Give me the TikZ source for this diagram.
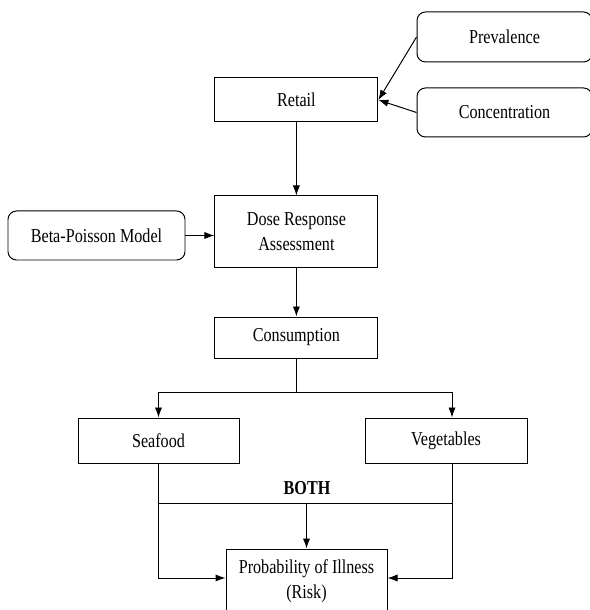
\documentclass[tikz,border=0pt]{standalone}
\usepackage{fontspec}
\setmainfont{Liberation Serif}[FakeStretch=0.82]
\usetikzlibrary{arrows.meta}

\newcommand{\flowfont}{\fontsize{14}{18}\selectfont}

\tikzset{
  stage/.style={draw, line width=0.7pt, align=center, inner sep=0pt, font=\flowfont},
  source/.style={stage, rounded corners=6pt},
  flow/.style={line width=0.7pt, -{Latex[length=2.5mm,width=1.8mm]}},
  link/.style={line width=0.7pt}
}

\begin{document}
\begin{tikzpicture}

\useasboundingbox (0,0) rectangle (14.725,15.25);

% Main chain
\node[stage, minimum width=4.075cm, minimum height=1.1cm] (retail) at (7.41,12.75) {Retail};
\node[stage, minimum width=4.075cm, minimum height=1.775cm] (dose) at (7.41,9.4625) {Dose Response\\Assessment};
\node[stage, minimum width=4.075cm, minimum height=1.025cm] (consumption) at (7.41,6.8125) {Consumption};

% Inputs
\node[source, minimum width=4.375cm, minimum height=1.25cm] (prevalence) at (12.6125,14.325) {Prevalence};
\node[source, minimum width=4.375cm, minimum height=1.225cm] (concentration) at (12.6125,12.4375) {Concentration};
\node[source, minimum width=4.425cm, minimum height=1.225cm] (beta) at (2.4125,9.3625) {Beta-Poisson Model};

% Food groups and outcome
\node[stage, minimum width=4.025cm, minimum height=1.125cm] (seafood) at (3.9625,4.2375) {Seafood};
\node[stage, minimum width=4.05cm, minimum height=1.125cm] (vegetables) at (11.15,4.2375) {Vegetables};
\node[stage, minimum width=4.025cm, minimum height=1.6cm] (risk) at (7.6625,0.725) {Probability of Illness\\(Risk)};
\node[font=\flowfont\bfseries] (both) at (7.675,3.05) {BOTH};
\coordinate (vegIn) at ([xshift=0.15cm]vegetables.north);
\coordinate (vegOut) at ([xshift=0.15cm]vegetables.south);

% Arrows into the chain
\draw[flow] (prevalence.west) -- (retail.east);
\draw[flow] (concentration.west) -- (retail.east);
\draw[flow] (retail) -- (dose);
\draw[flow] (beta) -- (beta -| dose.west);
\draw[flow] (dose) -- (consumption);

% Split
\draw[link] (consumption.south) -- ++(0,-0.85) coordinate (split);
\draw[flow] (split) -| (seafood.north);
\draw[flow] (split) -| (vegIn);

% Merge
\path (seafood.south) ++(0,-1) coordinate (mergeL);
\draw[link] (mergeL) -- (mergeL -| vegOut);
\draw[flow] (mergeL -| risk.north) -- (risk.north);
\draw[flow] (seafood.south) |- ([yshift=0.075cm]risk.west);
\draw[flow] (vegOut) |- ([yshift=0.075cm]risk.east);

\end{tikzpicture}
\end{document}
